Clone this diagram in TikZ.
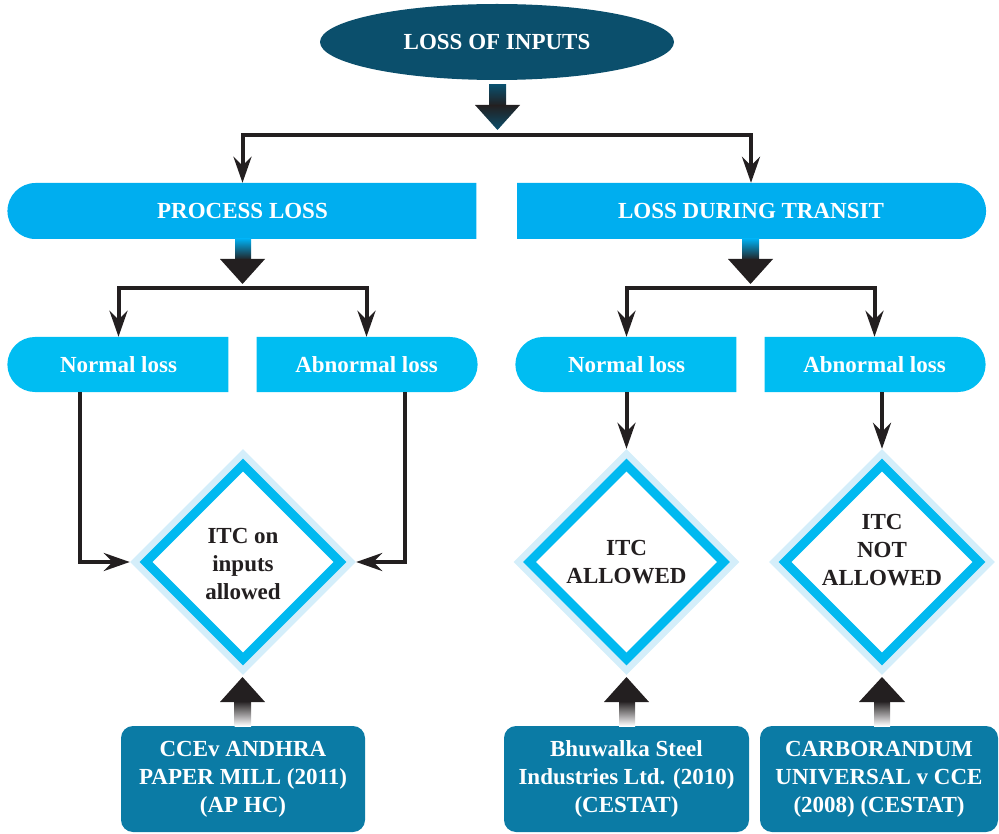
\documentclass[tikz,border=0pt]{standalone}
\usepackage{fontspec}
\setmainfont{Liberation Serif}
\usetikzlibrary{shapes.geometric,shapes.misc,arrows.meta,calc}
\definecolor{dteal}{HTML}{0B4F6C}
\definecolor{cyanA}{HTML}{00AEEF}
\definecolor{cyanB}{HTML}{00BDF2}
\definecolor{cyanD}{HTML}{00B9F0}
\definecolor{lblue}{HTML}{D4EEFA}
\definecolor{bteal}{HTML}{0B7BA5}
\definecolor{ink}{HTML}{231F20}
\begin{document}
\begin{tikzpicture}[x=1pt,y=-1pt,
  txt/.style={font=\bfseries\fontsize{23}{28}\selectfont, align=center},
  bigbox/.style={rounded rectangle, fill=cyanA, minimum width=469pt, minimum height=56pt, inner sep=0pt, text=white, txt},
  smallbox/.style={rounded rectangle, fill=cyanB, minimum width=221pt, minimum height=55pt, inner sep=0pt, text=white, txt},
  casebox/.style={rectangle, rounded corners=12pt, fill=bteal, minimum height=106pt, inner sep=0pt, text=white, txt},
  outerd/.style={diamond, fill=lblue, minimum width=226pt, minimum height=226pt, inner sep=0pt},
  midd/.style={diamond, fill=cyanD, minimum width=207pt, minimum height=207pt, inner sep=0pt},
  innerd/.style={diamond, fill=white, minimum width=181pt, minimum height=181pt, inner sep=0pt},
  dtxt/.style={txt, text=ink},
  conn/.style={draw=ink, line width=4pt, -{Stealth[length=26pt,width=18pt,inset=9pt]}},
  link/.style={draw=ink, line width=4pt}
]
\useasboundingbox (0,0) rectangle (999,834);

% top ellipse
\node[ellipse, fill=dteal, minimum width=354pt, minimum height=76pt, inner sep=0pt, text=white, txt] (top) at (497,42) {LOSS OF INPUTS};

% top fat arrow
\shade[top color=dteal, bottom color=ink] (489,85) rectangle (506,106);
\shade[top color=ink, bottom color=dteal] (475,105) -- (520,105) -- (497.5,130) -- cycle;
\coordinate (j0) at (497.5,135);

% level 1 boxes
\node[bigbox, rounded rectangle right arc=none] (proc) at (242.5,211) {PROCESS LOSS};
\node[bigbox, rounded rectangle left arc=none] (trans) at (751,211) {LOSS DURING TRANSIT};

\draw[conn] (j0) -| (proc.north);
\draw[conn] (j0) -| (trans.north);

% fat arrows level 1
\shade[top color=cyanA, bottom color=ink] (235,239) rectangle (251,260);
\fill[ink] (220,259) -- (265,259) -- (242.5,284) -- cycle;
\shade[top color=cyanA, bottom color=ink] (742,239) rectangle (759,260);
\fill[ink] (728,259) -- (773,259) -- (750.5,284) -- cycle;
\coordinate (j1) at (242.5,288);
\coordinate (j2) at (750.5,288);

% level 2 boxes
\node[smallbox, rounded rectangle right arc=none] (nl) at (118.5,364.5) {Normal loss};
\node[smallbox, rounded rectangle left arc=none] (al) at (366.5,364.5) {Abnormal loss};
\node[smallbox, rounded rectangle right arc=none] (nr) at (626.5,364.5) {Normal loss};
\node[smallbox, rounded rectangle left arc=none] (ar) at (874.5,364.5) {Abnormal loss};

\draw[conn] (j1) -| (nl.north);
\draw[conn] (j1) -| (al.north);
\draw[conn] (j2) -| (nr.north);
\draw[conn] (j2) -| (ar.north);

% diamonds
\node[outerd] (d1) at (243,562) {};
\node[midd] at (d1.center) {};
\node[innerd] at (d1.center) {};
\node[dtxt] at (243,564) {ITC on\\inputs\\allowed};

\node[outerd] (d2) at (626.5,562) {};
\node[midd] at (d2.center) {};
\node[innerd] at (d2.center) {};
\node[dtxt] at (626.5,562) {ITC\\ALLOWED};

\node[outerd] (d3) at (882,562) {};
\node[midd] at (d3.center) {};
\node[innerd] at (d3.center) {};
\node[dtxt] at (882,550) {ITC\\NOT\\ALLOWED};

% connectors to diamonds
\draw[conn] ([xshift=-38.5pt]nl.south) |- (d1.west);
\draw[conn] ([xshift=38.5pt]al.south) |- (d1.east);
\draw[conn] (nr.south) -- (d2.north);
\draw[conn] (ar.south -| d3.north) -- (d3.north);

% case boxes
\node[casebox, minimum width=244pt] (c1) at (243,779) {CCEv ANDHRA\\PAPER MILL (2011)\\(AP HC)};
\node[casebox, minimum width=245pt] (c2) at (626.5,779) {Bhuwalka Steel\\Industries Ltd. (2010)\\(CESTAT)};
\node[casebox, minimum width=238pt] (c3) at (879,779) {CARBORANDUM\\UNIVERSAL v CCE\\(2008) (CESTAT)};

% up fat arrows
\shade[top color=ink, bottom color=white] (234.5,701) rectangle (251,726);
\fill[ink] (220,702) -- (265,702) -- (242.5,677) -- cycle;
\shade[top color=ink, bottom color=white] (619,701) rectangle (635,726);
\fill[ink] (604,702) -- (649,702) -- (626.5,677) -- cycle;
\shade[top color=ink, bottom color=white] (874,701) rectangle (890,726);
\fill[ink] (859,702) -- (905,702) -- (882,677) -- cycle;
\end{tikzpicture}
\end{document}
